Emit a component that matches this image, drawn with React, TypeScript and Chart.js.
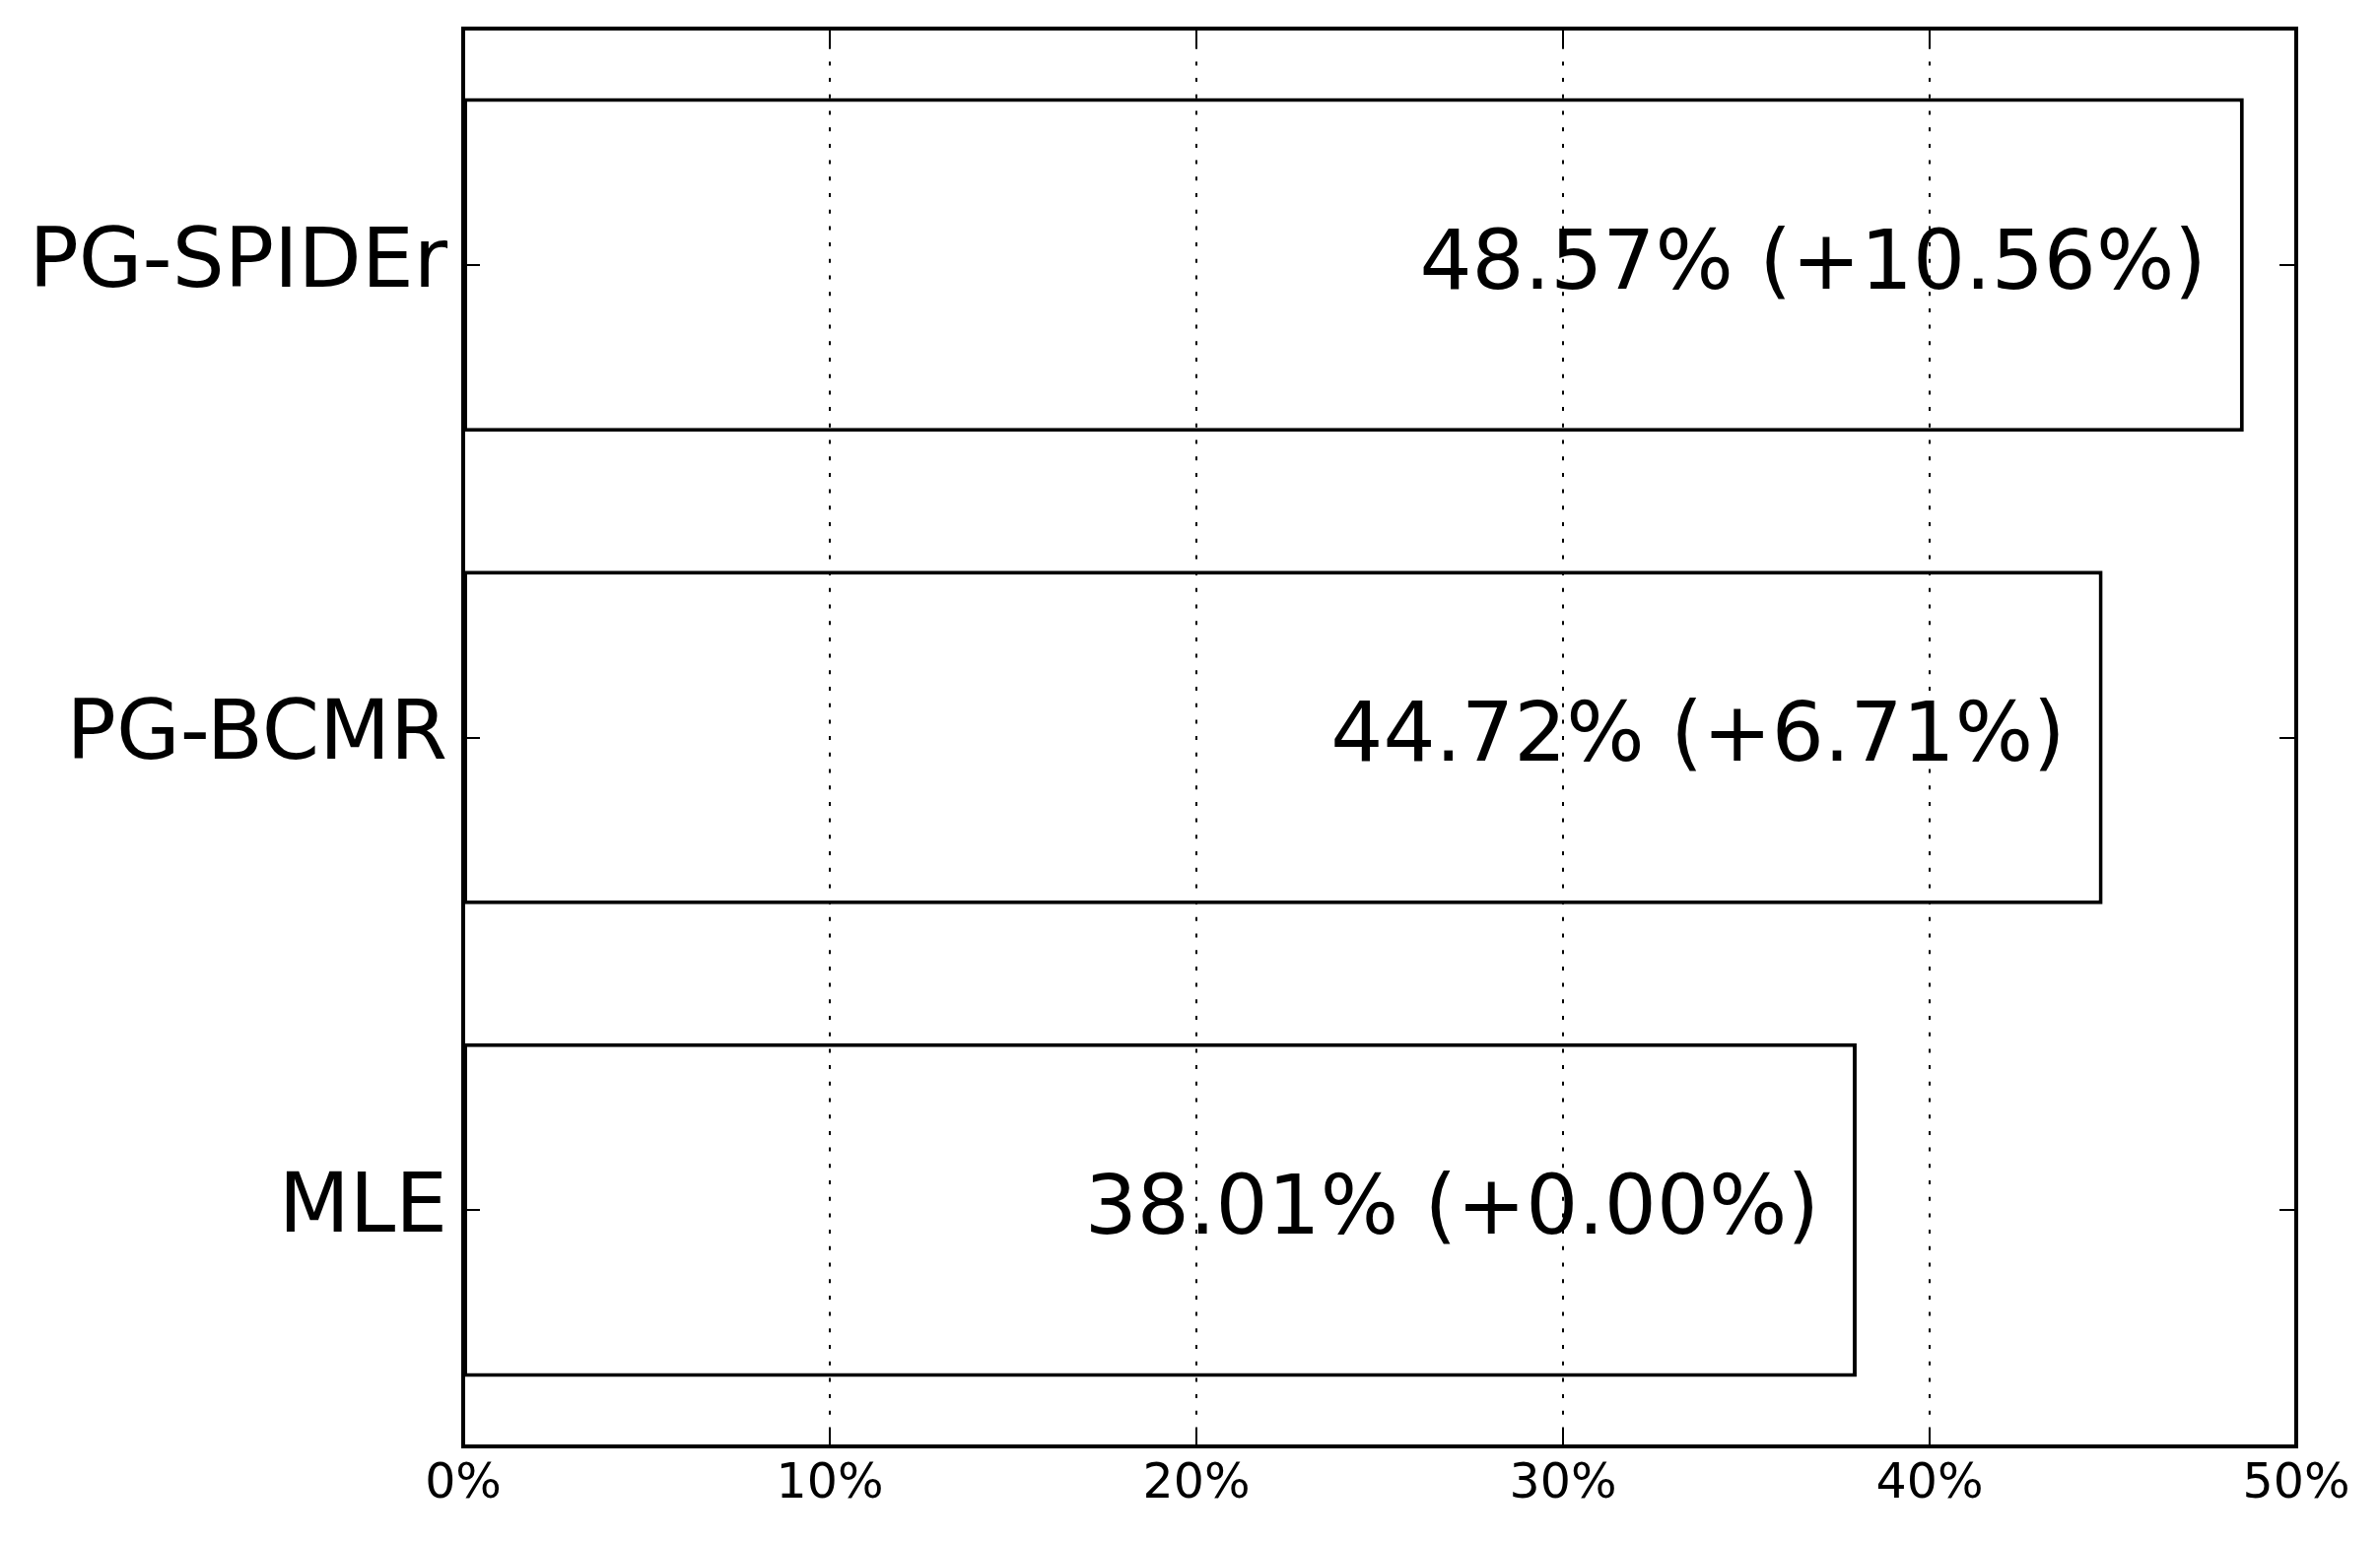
import React, { useEffect, useRef } from "react";
import { Chart, registerables } from "chart.js";

Chart.register(...registerables);

const categories = ["PG-SPIDEr", "PG-BCMR", "MLE"];
const scores = [48.57, 44.72, 38.01];
const gains = [10.56, 6.71, 0.0];
const xTicks = [0, 10, 20, 30, 40, 50];

const FONT = "'DejaVu Sans', sans-serif";

const framePlugin = {
  id: "framePlugin",
  afterDatasetsDraw(chart: any) {
    const { ctx, chartArea } = chart;
    const xs = chart.scales.x;
    const ys = chart.scales.y;
    ctx.save();
    // dotted grid lines (drawn over bars)
    ctx.strokeStyle = "#000";
    ctx.lineWidth = 2;
    ctx.setLineDash([4, 12.7]);
    xTicks.forEach((v) => {
      if (v === xTicks[0] || v === xTicks[xTicks.length - 1]) return;
      const px = Math.round(xs.getPixelForValue(v));
      ctx.beginPath();
      ctx.moveTo(px, chartArea.top);
      ctx.lineTo(px, chartArea.bottom);
      ctx.stroke();
    });
    ctx.setLineDash([]);
    // inward ticks
    const tl = 17;
    ctx.lineWidth = 2;
    xTicks.forEach((v) => {
      const px = Math.round(xs.getPixelForValue(v));
      ctx.beginPath();
      ctx.moveTo(px, chartArea.bottom);
      ctx.lineTo(px, chartArea.bottom - tl);
      ctx.moveTo(px, chartArea.top);
      ctx.lineTo(px, chartArea.top + tl);
      ctx.stroke();
    });
    categories.forEach((_, i) => {
      const py = Math.round(ys.getPixelForValue(i));
      ctx.beginPath();
      ctx.moveTo(chartArea.left, py);
      ctx.lineTo(chartArea.left + tl, py);
      ctx.moveTo(chartArea.right, py);
      ctx.lineTo(chartArea.right - tl, py);
      ctx.stroke();
    });
    // value labels inside bars
    const meta = chart.getDatasetMeta(0);
    ctx.fillStyle = "#000";
    ctx.font = `83.5px ${FONT}`;
    ctx.textAlign = "right";
    ctx.textBaseline = "middle";
    meta.data.forEach((bar: any, i: number) => {
      const txt = `${scores[i].toFixed(2)}% (+${gains[i].toFixed(2)}%)`;
      ctx.fillText(txt, bar.x - 38, bar.y + 2);
    });
    // frame
    ctx.lineWidth = 4;
    ctx.strokeRect(
      chartArea.left,
      chartArea.top,
      chartArea.right - chartArea.left,
      chartArea.bottom - chartArea.top
    );
    ctx.restore();
  },
};

export default function App() {
  const canvasRef = useRef<HTMLCanvasElement | null>(null);

  useEffect(() => {
    if (!canvasRef.current) return;
    const chart = new Chart(canvasRef.current, {
      type: "bar",
      data: {
        labels: categories,
        datasets: [
          {
            data: scores,
            backgroundColor: "#ffffff",
            borderColor: "#000000",
            borderWidth: 4,
            borderSkipped: false,
            barPercentage: 0.706,
            categoryPercentage: 1,
          },
        ],
      },
      options: {
        indexAxis: "y",
        animation: false,
        responsive: false,
        devicePixelRatio: 1,
        layout: { padding: { top: 29, right: 85, left: 0, bottom: 0 } },
        plugins: {
          legend: { display: false },
          tooltip: { enabled: false },
        },
        scales: {
          x: {
            type: "linear",
            min: 0,
            max: 50,
            afterFit: (s: any) => {
              s.height = 96;
              s.paddingLeft = 0;
              s.paddingRight = 0;
            },
            afterBuildTicks: (s: any) => {
              s.ticks = xTicks.map((v) => ({ value: v }));
            },
            grid: { display: false, drawTicks: false },
            border: { display: false },
            ticks: {
              padding: 10,
              color: "#000",
              font: { family: FONT, size: 49 },
              callback: (v: any) => `${v}%`,
              maxRotation: 0,
            },
          },
          y: {
            type: "category",
            afterFit: (s: any) => {
              s.width = 470;
              s.paddingTop = 0;
              s.paddingBottom = 0;
            },
            grid: { display: false, drawTicks: false },
            border: { display: false },
            ticks: {
              padding: 16,
              color: "#000",
              font: { family: FONT, size: 83.5 },
            },
          },
        },
      },
      plugins: [framePlugin],
    } as any);
    return () => chart.destroy();
  }, []);

  return (
    <div style={{ position: "absolute", left: 0, top: 0, width: 2415, height: 1564, background: "#fff" }}>
      <canvas ref={canvasRef} width={2415} height={1564} style={{ width: 2415, height: 1564 }} />
    </div>
  );
}
